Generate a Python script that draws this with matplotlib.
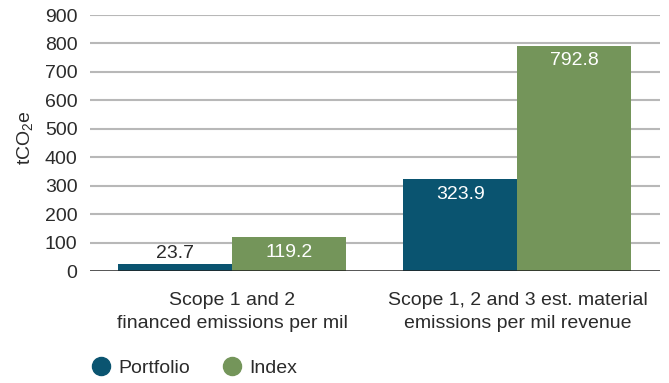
import matplotlib
matplotlib.use("Agg")
import matplotlib.pyplot as plt
from matplotlib.lines import Line2D
import numpy as np

categories = ["Scope 1 and 2\nfinanced emissions per mil",
              "Scope 1, 2 and 3 est. material\nemissions per mil revenue"]
portfolio = [23.7, 323.9]
index_vals = [119.2, 792.8]
series_names = ["Portfolio", "Index"]
y_ticks = [0, 100, 200, 300, 400, 500, 600, 700, 800, 900]

c_port = "#0a5470"
c_index = "#74955a"
c_text = "#2b2b2b"
fs = 14

plt.rcParams["font.family"] = ["Liberation Sans", "DejaVu Sans"]
plt.rcParams["mathtext.fontset"] = "custom"
plt.rcParams["mathtext.rm"] = "Liberation Sans"
plt.rcParams["mathtext.it"] = "Liberation Sans"

fig = plt.figure(figsize=(6.69, 3.83), dpi=100)
ax = fig.add_axes([0.1345, 0.2924, 0.852, 0.6684])

x = np.arange(len(categories))
w = 0.4
bars_p = ax.bar(x - w / 2, portfolio, w, color=c_port, zorder=3)
bars_i = ax.bar(x + w / 2, index_vals, w, color=c_index, zorder=3)

ax.set_xlim(-0.5, 1.5)
ax.set_ylim(0, 900)
ax.set_yticks(y_ticks)
ax.set_yticklabels([str(t) for t in y_ticks], fontsize=fs, color=c_text)
ax.tick_params(axis="y", length=0, pad=9)
ax.set_xticks(x)
ax.set_xticklabels(categories, fontsize=fs, color=c_text, linespacing=1.5)
ax.tick_params(axis="x", length=0, pad=15)

for t in y_ticks[1:]:
    ax.axhline(t, color="#b8b8b8", lw=1.5, zorder=1)
ax.axhline(0, color="#222222", lw=1.8, zorder=4)
for s in ax.spines.values():
    s.set_visible(False)

ax.set_ylabel("tCO$_2$e", fontsize=fs, color=c_text)
ax.yaxis.set_label_coords(-0.097, 0.52)

def label(bar, val):
    top = bar.get_height()
    cx = bar.get_x() + bar.get_width() / 2
    if top < 60:
        ax.annotate(f"{val}", (cx, top), xytext=(0, 8), textcoords="offset points",
                    ha="center", va="center", fontsize=fs, color=c_text, zorder=5)
    else:
        ax.annotate(f"{val}", (cx, top), xytext=(0, -11), textcoords="offset points",
                    ha="center", va="center", fontsize=fs, color="white", zorder=5)

for b, v in zip(bars_p, portfolio):
    label(b, v)
for b, v in zip(bars_i, index_vals):
    label(b, v)

handles = [Line2D([], [], marker="o", ls="none", markersize=13, color=c_port),
           Line2D([], [], marker="o", ls="none", markersize=13, color=c_index)]
fig.legend(handles, series_names, loc="center left", bbox_to_anchor=(0.137, 0.039),
           ncol=2, frameon=False, fontsize=fs, handlelength=1.0, handletextpad=0.35,
           columnspacing=1.7, labelcolor=c_text, borderaxespad=0, borderpad=0)

fig.savefig("out.png", dpi=100)
